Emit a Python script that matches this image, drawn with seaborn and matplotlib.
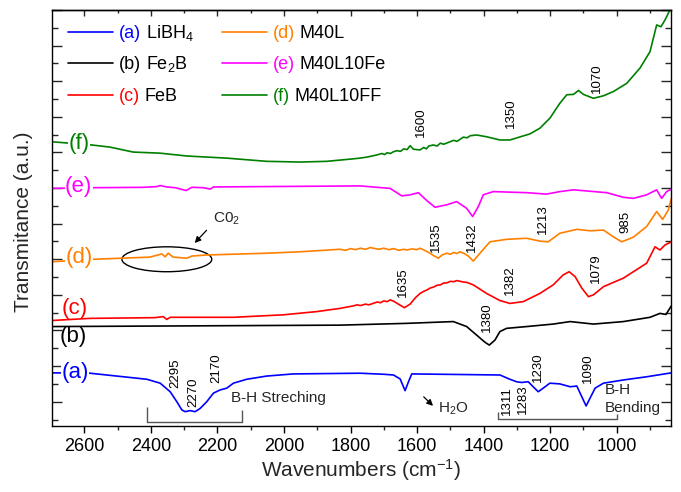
import matplotlib
matplotlib.use("Agg")
import matplotlib.pyplot as plt
from matplotlib.patches import Ellipse
from matplotlib.lines import Line2D
from matplotlib.ticker import MultipleLocator
import numpy as np
import pandas as pd
import seaborn as sns

# ---------------- spectra (wavenumber in cm^-1, transmittance in offset a.u.) ----------------
WN_A = [2698, 2583, 2412, 2372, 2342, 2322, 2307, 2297, 2282, 2267, 2252, 2232, 2212, 2192,
        2172, 2152, 2112, 2052, 1972, 1771, 1700, 1671, 1651, 1636, 1625, 1616, 1351, 1321,
        1301, 1286, 1266, 1251, 1236, 1221, 1201, 1171, 1140, 1120, 1110, 1092, 1078, 1065,
        1040, 980, 910, 836]
T_A = [0.81, 0.80, 0.63, 0.52, 0.28, 0.00, -0.23, -0.28, -0.25, -0.28, -0.19, 0.00, 0.24, 0.33,
       0.38, 0.52, 0.63, 0.72, 0.78, 0.80, 0.77, 0.75, 0.64, 0.31, 0.58, 0.78, 0.75, 0.63,
       0.56, 0.54, 0.56, 0.42, 0.28, 0.38, 0.52, 0.50, 0.42, 0.44, 0.24, -0.12, 0.14, 0.38,
       0.52, 0.61, 0.70, 0.81]

WN_B = [2698, 1832, 1631, 1491, 1451, 1421, 1396, 1383, 1366, 1351, 1331, 1271, 1191, 1140,
        1110, 1070, 980, 900, 870, 852, 836]
T_B = [2.11, 2.15, 2.20, 2.25, 2.11, 1.87, 1.67, 1.59, 1.73, 1.97, 2.06, 2.11, 2.18, 2.25,
       2.22, 2.18, 2.25, 2.37, 2.48, 2.45, 2.69]

WN_C = [2698, 2583, 2388, 2363, 2352, 2342, 2152, 2002, 1902, 1832, 1792, 1780, 1770, 1755,
        1745, 1732, 1720, 1710, 1700, 1690, 1681, 1670, 1656, 1638, 1621, 1605, 1591, 1580,
        1570, 1561, 1550, 1540, 1530, 1521, 1510, 1500, 1490, 1481, 1470, 1460, 1450, 1431,
        1391, 1351, 1321, 1281, 1231, 1191, 1161, 1143, 1125, 1105, 1085, 1070, 1040, 980,
        910, 885, 870, 855, 836]
T_C = [2.28, 2.34, 2.36, 2.39, 2.31, 2.37, 2.37, 2.44, 2.53, 2.62, 2.69, 2.72, 2.70, 2.74,
       2.72, 2.76, 2.80, 2.78, 2.83, 2.81, 2.86, 2.82, 2.74, 2.64, 2.74, 2.92, 3.04, 3.10,
       3.14, 3.19, 3.22, 3.27, 3.28, 3.33, 3.34, 3.38, 3.37, 3.40, 3.38, 3.36, 3.35, 3.28,
       3.04, 2.84, 2.76, 2.81, 3.04, 3.28, 3.56, 3.65, 3.51, 3.19, 2.95, 3.00, 3.23, 3.47,
       3.89, 4.35, 4.26, 4.40, 4.49]

WN_D = [2698, 2573, 2403, 2367, 2357, 2348, 2333, 2292, 2277, 2232, 2052, 1952, 1832, 1815,
        1800, 1785, 1770, 1755, 1740, 1732, 1715, 1700, 1685, 1670, 1655, 1640, 1631, 1615,
        1600, 1591, 1575, 1561, 1550, 1536, 1525, 1511, 1500, 1490, 1481, 1471, 1460, 1446,
        1431, 1411, 1381, 1331, 1271, 1231, 1206, 1171, 1120, 1080, 1040, 1010, 985, 950,
        910, 880, 862, 845, 836]
T_D = [3.93, 4.00, 4.06, 4.15, 4.07, 4.17, 4.06, 4.03, 4.09, 4.12, 4.17, 4.21, 4.28, 4.25,
       4.30, 4.27, 4.31, 4.28, 4.33, 4.31, 4.28, 4.31, 4.27, 4.30, 4.25, 4.28, 4.26, 4.29,
       4.27, 4.31, 4.24, 4.17, 4.10, 4.03, 4.12, 4.17, 4.14, 4.19, 4.16, 4.21, 4.17, 4.09,
       3.95, 4.17, 4.49, 4.56, 4.59, 4.51, 4.49, 4.73, 4.84, 4.80, 4.82, 4.63, 4.49, 4.62,
       4.92, 5.34, 5.12, 5.38, 5.71]

WN_E = [2698, 2573, 2423, 2382, 2372, 2352, 2327, 2294, 2277, 2242, 2222, 2212, 2072, 1771,
        1681, 1646, 1621, 1596, 1571, 1546, 1511, 1481, 1451, 1433, 1416, 1401, 1371, 1271,
        1211, 1171, 1130, 1030, 980, 950, 910, 880, 865, 850, 836]
T_E = [5.99, 6.01, 6.02, 6.04, 6.07, 6.03, 6.01, 5.93, 6.02, 6.01, 5.97, 6.03, 6.04, 6.06,
       5.99, 5.78, 5.81, 5.87, 5.65, 5.46, 5.53, 5.62, 5.43, 5.20, 5.48, 5.81, 5.90, 5.87,
       5.83, 5.90, 5.95, 5.87, 5.74, 5.71, 5.81, 5.95, 5.71, 5.90, 5.97]

WN_F = [2698, 2578, 2523, 2453, 2373, 2292, 2172, 2052, 1952, 1872, 1792, 1772, 1750, 1735,
        1721, 1705, 1698, 1690, 1680, 1671, 1660, 1650, 1640, 1630, 1621, 1611, 1591, 1580,
        1572, 1565, 1551, 1540, 1530, 1520, 1501, 1490, 1480, 1461, 1450, 1440, 1421, 1391,
        1351, 1321, 1261, 1231, 1201, 1171, 1150, 1130, 1115, 1100, 1070, 1040, 1010, 970,
        930, 900, 880, 867, 855, 840, 836]
T_F = [7.30, 7.21, 7.15, 7.01, 6.98, 6.90, 6.84, 6.75, 6.73, 6.75, 6.82, 6.84, 6.87, 6.90,
       6.93, 6.97, 6.94, 6.99, 6.97, 7.02, 7.05, 7.03, 7.10, 7.08, 7.19, 7.09, 7.07, 7.14,
       7.10, 7.18, 7.21, 7.18, 7.26, 7.23, 7.30, 7.34, 7.31, 7.43, 7.41, 7.47, 7.49, 7.44,
       7.35, 7.35, 7.52, 7.68, 7.96, 8.38, 8.62, 8.63, 8.74, 8.63, 8.52, 8.59, 8.71, 8.94,
       9.37, 9.83, 10.58, 10.53, 10.72, 11.00, 11.14]

SAMPLES = ["a", "b", "c", "d", "e", "f"]
TAGS = ["(a)", "(b)", "(c)", "(d)", "(e)", "(f)"]
NAMES = ["LiBH$_4$", "Fe$_2$B", "FeB", "M40L", "M40L10Fe", "M40L10FF"]
COLORS = ["#0000FF", "#000000", "#FF0000", "#FF8000", "#FF00FF", "#008000"]
WAVENUMBERS = [WN_A, WN_B, WN_C, WN_D, WN_E, WN_F]
TRANSMITTANCE = [T_A, T_B, T_C, T_D, T_E, T_F]

# band assignments written next to the spectra
PEAK_TEXT = ["2295", "2270", "2170", "1311", "1283", "1230", "1090", "1380", "1635",
             "1382", "1079", "1535", "1432", "1213", "985", "1600", "1350", "1070"]
PEAK_X = [2327, 2272, 2202, 1331, 1281, 1237, 1087, 1391, 1641,
          1321, 1062, 1543, 1436, 1221, 975, 1588, 1319, 1058]
PEAK_Y = [0.38, -0.14, 0.53, -0.37, -0.35, 0.56, 0.52, 1.97, 2.95,
          3.00, 3.33, 4.21, 4.21, 4.71, 4.73, 7.44, 7.68, 8.66]

# curve tags placed at the left end of each spectrum
TAG_X = [2628, 2632, 2628, 2616, 2617, 2616]
TAG_Y = [0.81, 1.83, 2.63, 4.04, 6.04, 7.24]

# ---------------- style ----------------
sns.set_style("ticks")
plt.rcParams["font.family"] = ["Liberation Sans", "DejaVu Sans"]
plt.rcParams["mathtext.fontset"] = "custom"
plt.rcParams["mathtext.rm"] = "Liberation Sans"
plt.rcParams["mathtext.it"] = "Liberation Sans:italic"
plt.rcParams["mathtext.bf"] = "Liberation Sans:bold"
plt.rcParams["axes.edgecolor"] = "black"
plt.rcParams["axes.linewidth"] = 1.0

fig, ax = plt.subplots(figsize=(6.81, 4.92), dpi=100)
fig.subplots_adjust(left=51.7 / 681, right=671.3 / 681,
                    bottom=1 - 425.7 / 492, top=1 - 10 / 492)

frames = [pd.DataFrame({"Wavenumber": w, "Transmittance": t, "Sample": s})
          for s, w, t in zip(SAMPLES, WAVENUMBERS, TRANSMITTANCE)]
df = pd.concat(frames, ignore_index=True)
palette = dict(zip(SAMPLES, COLORS))

sns.lineplot(data=df, x="Wavenumber", y="Transmittance", hue="Sample",
             hue_order=SAMPLES, palette=palette, sort=False, estimator=None,
             linewidth=1.2, legend=False, ax=ax)

ax.set_xlim(2698, 836)
ax.set_ylim(-0.674, 11.0)

# x axis: labelled ticks below, plain inward ticks on top
ax.xaxis.set_major_locator(MultipleLocator(200))
ax.xaxis.set_minor_locator(MultipleLocator(100))
ax.tick_params(axis="x", which="major", direction="out", length=5, width=1.0,
               labelsize=13, pad=4, colors="black")
ax.tick_params(axis="x", which="minor", direction="out", length=3, width=1.0)
top = ax.secondary_xaxis("top")
top.xaxis.set_major_locator(MultipleLocator(200))
top.xaxis.set_minor_locator(MultipleLocator(100))
top.tick_params(axis="x", which="major", direction="in", length=4, width=1.0, labeltop=False)
top.tick_params(axis="x", which="minor", direction="in", length=2.5, width=1.0)

# y axis: no values, inward ticks on both sides
ax.yaxis.set_major_locator(MultipleLocator(1))
ax.yaxis.set_minor_locator(MultipleLocator(0.5))
ax.tick_params(axis="y", which="both", direction="in", left=True, right=True,
               labelleft=False, width=1.0)
ax.tick_params(axis="y", which="major", length=7)
ax.tick_params(axis="y", which="minor", length=4)
for sp in ax.spines.values():
    sp.set_visible(True)
    sp.set_color("black")

ax.set_xlabel("Wavenumbers (cm$^{-1}$)", fontsize=15)
ax.set_ylabel("Transmitance (a.u.)", fontsize=15)
ax.xaxis.set_label_coords(0.5, -0.075)
ax.yaxis.set_label_coords(-0.030, 0.491)

# curve tags
for tag, x, y, c, s in zip(TAGS, TAG_X, TAG_Y, COLORS, SAMPLES):
    box = dict(fc="white", ec="none", pad=0.3) if s in ("a", "d", "e", "f") else None
    ax.text(x, y, tag, color=c, fontsize=16, ha="center", va="center", bbox=box, zorder=4)

# band positions
for txt, x, y in zip(PEAK_TEXT, PEAK_X, PEAK_Y):
    ax.text(x, y, txt, rotation=90, ha="center", va="bottom", fontsize=9.5, color="black")

# B-H stretching / bending brackets
bracket_kw = dict(color="#555555", lw=1.0, solid_capstyle="butt")
ax.plot([2412, 2412, 2127, 2127], [-0.14, -0.56, -0.56, -0.23], **bracket_kw)
ax.plot([1358, 1358, 998, 998], [-0.28, -0.49, -0.49, -0.35], **bracket_kw)
ax.text(2160, 0.10, "B-H Streching", fontsize=11, ha="left", va="center")
ax.text(1037, 0.33, "B-H", fontsize=11, ha="left", va="center")
ax.text(1037, -0.19, "Bending", fontsize=11, ha="left", va="center")

# water band
ax.annotate("", xy=(1546, -0.17), xytext=(1586, 0.19),
            arrowprops=dict(arrowstyle="-|>", color="black", lw=0.9, mutation_scale=9))
ax.text(1536, -0.19, "H$_2$O", fontsize=11, ha="left", va="center")

# CO2 artefact
ax.add_patch(Ellipse((2352, 4.00), width=270, height=0.70, fill=False, ec="black", lw=1.0))
ax.annotate("", xy=(2274, 4.40), xytext=(2227, 4.87),
            arrowprops=dict(arrowstyle="-|>", color="black", lw=0.9, mutation_scale=9))
ax.text(2213, 5.15, "C0$_2$", fontsize=11, ha="left", va="center")

# legend: coloured tag from the legend, black compound name after it
handles = [Line2D([], [], color=c, lw=1.2) for c in COLORS]
leg = ax.legend(handles, TAGS, ncol=2, loc="upper left",
                bbox_to_anchor=((68 - 51.7) / 619.6, (425.7 - 25.0) / 415.7),
                frameon=False, fontsize=13, handlelength=2.5, handletextpad=0.3,
                columnspacing=4.5, labelspacing=0.80, borderpad=0, borderaxespad=0,
                labelcolor="linecolor")
for t, name in zip(leg.get_texts(), NAMES):
    ax.annotate(name, xy=(1, 0), xycoords=(t, t.get_transform()),
                xytext=(3.6, 0), textcoords="offset points",
                ha="left", va="baseline", fontsize=13, color="black", zorder=6)

fig.canvas.draw()
fig.savefig("out.png", dpi=100)
